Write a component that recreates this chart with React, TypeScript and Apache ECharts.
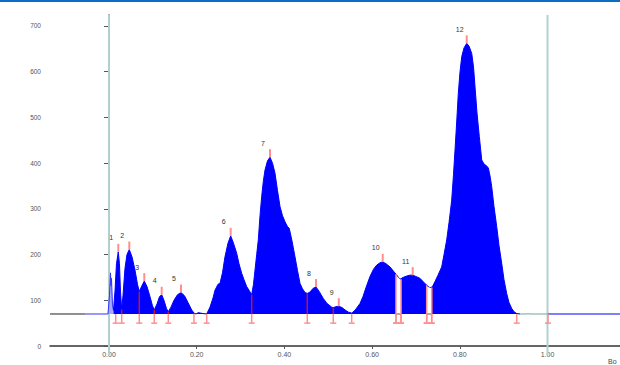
import React, { useEffect, useRef } from "react";
import * as echarts from "echarts";

const BASELINE = 70;
const MARK_BOTTOM = 50;
const X_MIN = -0.1345;
const X_MAX = 1.1653;
const Y_MAX = 724;

const xTicks = [0, 0.2, 0.4, 0.6, 0.8, 1.0];
const yTicks = [0, 100, 200, 300, 400, 500, 600, 700];

const leadX = [-0.1345, -0.0547];
const leadY = [70, 70];

const prePeakX = [-0.0547, -0.0023, 0.0011, 0.0034, 0.0046, 0.0057, 0.008, 0.0103];
const prePeakY = [70, 70, 110, 160, 132, 148, 90, 78];

const traceX = [
  0.0103, 0.0137, 0.0171, 0.0212, 0.0239, 0.0262, 0.029, 0.0319, 0.0365, 0.041,
  0.0463, 0.0525, 0.0593, 0.065, 0.0691, 0.0741, 0.0805, 0.0867, 0.0935, 0.0992,
  0.1033, 0.1095, 0.1152, 0.1202, 0.1254, 0.1311, 0.1352, 0.1414, 0.1482, 0.1562,
  0.1642, 0.1722, 0.1802, 0.1886, 0.1938, 0.1984, 0.2036, 0.2087, 0.2144, 0.2228,
  0.2303, 0.2372, 0.2417, 0.2486, 0.2531, 0.2588, 0.2645, 0.2714, 0.2775, 0.2839,
  0.2912, 0.2965, 0.3026, 0.3079, 0.314, 0.3193, 0.3254, 0.3295, 0.333, 0.3368,
  0.3405, 0.3444, 0.3482, 0.3519, 0.3558, 0.3615, 0.3672, 0.3729, 0.3786, 0.3843,
  0.39, 0.3957, 0.4014, 0.4066, 0.4112, 0.4173, 0.4242, 0.4299, 0.4356, 0.4413,
  0.447, 0.4522, 0.4584, 0.4652, 0.4721, 0.4789, 0.4887, 0.4972, 0.5079, 0.5115,
  0.5177, 0.5241, 0.5314, 0.5382, 0.5462, 0.5535, 0.561, 0.5724, 0.5792, 0.5861,
  0.5952, 0.6032, 0.6105, 0.618, 0.6242, 0.6317, 0.6408, 0.6477, 0.6545, 0.6636,
  0.6705, 0.6789, 0.6864, 0.6926, 0.7001, 0.7092, 0.7172, 0.7245, 0.732, 0.7377,
  0.7434, 0.7503, 0.7587, 0.764, 0.7701, 0.7754, 0.7815, 0.7856, 0.7891, 0.7929,
  0.7966, 0.8005, 0.8044, 0.8096, 0.8158, 0.821, 0.8272, 0.8313, 0.8347, 0.8392,
  0.8445, 0.85, 0.8552, 0.8597, 0.865, 0.8689, 0.8727, 0.878, 0.8842, 0.8894,
  0.8955, 0.9008, 0.9069, 0.9122, 0.9184, 0.9236, 0.9298, 0.9373,
];
const traceY = [
  78, 120, 180, 206, 180, 120, 80, 110, 170, 200,
  211, 195, 166, 135, 119, 130, 142, 130, 108, 88,
  79, 92, 108, 112, 100, 82, 75, 85, 100, 112,
  117, 110, 95, 79, 72, 70, 73, 72, 71, 70,
  85, 105, 122, 135, 137, 160, 195, 225, 241, 225,
  203, 180, 159, 145, 130, 122, 112, 135, 166, 200,
  232, 285, 327, 360, 385, 405, 413, 400, 378, 340,
  305, 285, 272, 262, 257, 230, 195, 165, 137, 125,
  117, 115, 118, 126, 129, 120, 104, 93, 85, 84,
  86, 87, 84, 79, 74, 72, 78, 93, 108, 128,
  152, 168, 177, 182, 184, 180, 173, 165, 157, 146,
  150, 153, 155, 155, 152, 148, 140, 133, 127, 130,
  141, 155, 173, 200, 232, 270, 319, 375, 429, 490,
  553, 600, 633, 652, 662, 656, 640, 610, 567, 510,
  458, 407, 398, 395, 390, 372, 349, 305, 261, 220,
  181, 145, 115, 95, 82, 75, 71, 70,
];

const tailX = [0.9373, 0.9531, 0.9555, 0.958, 0.998, 1.0011];
const tailY = [70, 70, 71, 70, 70, 70];

const postX = [1.0011, 1.1653];
const postY = [70, 70];

const peakLabels = ["1", "2", "3", "4", "5", "6", "7", "8", "9", "10", "11", "12"];
const peakX = [0.0212, 0.0463, 0.0805, 0.1202, 0.1642, 0.2775, 0.3672, 0.4721, 0.5241, 0.6242, 0.6926, 0.8158];
const peakY = [206, 211, 142, 112, 117, 241, 413, 129, 87, 184, 155, 662];

const boundaryX = [0.0153, 0.029, 0.0691, 0.1033, 0.1352, 0.1938, 0.2228, 0.3254, 0.4522, 0.5115, 0.5535, 0.6545, 0.6659, 0.7245, 0.7359, 0.9298, 1.0011];
const boundaryTop = [70, 80, 119, 79, 75, 72, 70, 112, 115, 84, 72, 157, 146, 133, 128, 71, 70];

const gapStartX = [0.6545, 0.7245];
const gapStartTop = [157, 133];
const gapEndX = [0.6659, 0.7359];
const gapEndTop = [146, 128];

const guideX = [0, 1];

const zip = (xs: number[], ys: number[]) => xs.map((x, i) => [x, ys[i]]);

export default function App() {
  const ref = useRef<HTMLDivElement>(null);

  useEffect(() => {
    if (!ref.current) return;
    const chart = echarts.init(ref.current, undefined, { renderer: "svg" });
    const pink = "#ff8f8f";
    const darkRed = "#c0143c";

    const option: any = {
      animation: false,
      backgroundColor: "#ffffff",
      graphic: [
        { type: "rect", left: 0, top: 0, shape: { width: 620, height: 2 }, style: { fill: "#0a6fc2" }, z: 100 },
      ],
      grid: { left: 50, right: 0, top: 15, bottom: 19, containLabel: false },
      xAxis: {
        type: "value",
        min: X_MIN,
        max: X_MAX,
        name: "Bo",
        nameLocation: "end",
        nameGap: -12,
        nameTextStyle: { fontSize: 7, color: "#444", align: "left", verticalAlign: "top", padding: [12, 0, 0, 0], fontFamily: "Liberation Sans" },
        axisLine: { show: true, onZero: false, lineStyle: { color: "#333", width: 1.5 } },
        axisTick: { show: true, length: 3, customValues: xTicks, lineStyle: { color: "#555" } },
        axisLabel: {
          customValues: xTicks,
          formatter: (v: number) => v.toFixed(2),
          fontSize: 7,
          color: "#555",
          margin: 5,
          fontFamily: "Liberation Sans",
        },
        splitLine: { show: false },
      },
      yAxis: {
        type: "value",
        min: 0,
        max: Y_MAX,
        axisLine: { show: true, lineStyle: { color: "#9a9a9a", width: 2 } },
        axisTick: { show: true, length: 5, customValues: yTicks, lineStyle: { color: "#555" } },
        axisLabel: { customValues: yTicks, fontSize: 6.5, color: "#555", margin: 9, fontFamily: "Liberation Sans" },
        splitLine: { show: false },
      },
      series: [
        {
          type: "custom",
          name: "guides",
          z: 1,
          data: guideX.map((x) => [x, 0]),
          encode: { x: 0, y: 1 },
          renderItem: (params: any, api: any) => {
            const top = api.coord([api.value(0), Y_MAX]);
            const bot = api.coord([api.value(0), 0]);
            return {
              type: "line",
              shape: { x1: top[0], y1: top[1], x2: bot[0], y2: bot[1] + 9 },
              style: { stroke: "#b2d0d0", lineWidth: 2 },
            };
          },
        },
        {
          type: "line",
          name: "lead",
          z: 2,
          data: zip(leadX, leadY),
          showSymbol: false,
          lineStyle: { color: "#222", width: 1 },
        },
        {
          type: "line",
          name: "pre",
          z: 2,
          data: zip(prePeakX, prePeakY),
          showSymbol: false,
          lineStyle: { color: "#3030ff", width: 1 },
          areaStyle: { color: "#a8a8ff", opacity: 1, origin: BASELINE },
        },
        {
          type: "line",
          name: "trace",
          z: 3,
          data: zip(traceX, traceY),
          showSymbol: false,
          lineStyle: { color: "#0000ff", width: 1 },
          areaStyle: { color: "#0000ff", opacity: 1, origin: BASELINE },
        },
        {
          type: "line",
          name: "tail",
          z: 2,
          data: zip(tailX, tailY),
          showSymbol: false,
          lineStyle: { color: "#6fa3a3", width: 1 },
        },
        {
          type: "line",
          name: "post",
          z: 2,
          data: zip(postX, postY),
          showSymbol: false,
          lineStyle: { color: "#0000ff", width: 1 },
        },
        {
          type: "custom",
          name: "boundaries",
          z: 4,
          data: zip(boundaryX, boundaryTop),
          encode: { x: 0, y: 1 },
          renderItem: (params: any, api: any) => {
            const x = api.value(0);
            const t = api.coord([x, api.value(1)]);
            const b = api.coord([x, BASELINE]);
            const m = api.coord([x, MARK_BOTTOM]);
            const children: any[] = [];
            if (api.value(1) > BASELINE + 1) {
              children.push({ type: "line", shape: { x1: t[0], y1: t[1], x2: b[0], y2: b[1] }, style: { stroke: darkRed, lineWidth: 1.5 } });
            }
            children.push({ type: "line", shape: { x1: b[0], y1: b[1], x2: m[0], y2: m[1] }, style: { stroke: pink, lineWidth: 1.5 } });
            children.push({ type: "line", shape: { x1: m[0] - 3, y1: m[1], x2: m[0] + 3, y2: m[1] }, style: { stroke: pink, lineWidth: 1.5 } });
            return { type: "group", children };
          },
        },
        {
          type: "custom",
          name: "gaps",
          z: 5,
          data: gapStartX.map((x, i) => [x, gapStartTop[i], gapEndX[i], gapEndTop[i]]),
          encode: { x: [0, 2], y: [1, 3] },
          renderItem: (params: any, api: any) => {
            const s = api.coord([api.value(0), api.value(1)]);
            const sb = api.coord([api.value(0), BASELINE]);
            const e = api.coord([api.value(2), api.value(3)]);
            const eb = api.coord([api.value(2), BASELINE]);
            const sm = api.coord([api.value(0), MARK_BOTTOM]);
            const em = api.coord([api.value(2), MARK_BOTTOM]);
            return {
              type: "group",
              children: [
                { type: "polygon", shape: { points: [[sb[0], sb[1]], [s[0], s[1] + 1], [e[0], e[1] + 1], [eb[0], eb[1]]] }, style: { fill: "#ffffff" } },
                { type: "line", shape: { x1: sb[0], y1: sb[1], x2: eb[0], y2: eb[1] }, style: { stroke: "#555", lineWidth: 1 } },
                { type: "line", shape: { x1: s[0], y1: s[1], x2: sm[0], y2: sm[1] }, style: { stroke: pink, lineWidth: 1.5 } },
                { type: "line", shape: { x1: e[0], y1: e[1], x2: em[0], y2: em[1] }, style: { stroke: pink, lineWidth: 1.5 } },
                { type: "line", shape: { x1: sm[0] - 3, y1: sm[1], x2: sm[0] + 3, y2: sm[1] }, style: { stroke: pink, lineWidth: 1.5 } },
                { type: "line", shape: { x1: em[0] - 3, y1: em[1], x2: em[0] + 3, y2: em[1] }, style: { stroke: pink, lineWidth: 1.5 } },
              ],
            };
          },
        },
        {
          type: "custom",
          name: "peaks",
          z: 6,
          data: peakX.map((x, i) => [x, peakY[i], i]),
          encode: { x: 0, y: 1 },
          renderItem: (params: any, api: any) => {
            const p = api.coord([api.value(0), api.value(1)]);
            const label = peakLabels[api.value(2)];
            return {
              type: "group",
              children: [
                { type: "line", shape: { x1: p[0], y1: p[1], x2: p[0], y2: p[1] - 8 }, style: { stroke: pink, lineWidth: 2 } },
                {
                  type: "text",
                  x: p[0] - 7,
                  y: p[1] - 14,
                  style: { text: label, fontSize: 7, fill: "#333", align: "center", verticalAlign: "middle", fontFamily: "Liberation Sans" },
                },
              ],
            };
          },
        },
      ],
    };
    chart.setOption(option);
    return () => chart.dispose();
  }, []);

  return (
    <div
      ref={ref}
      style={{ position: "fixed", left: 0, top: 0, width: 620, height: 365, background: "#fff" }}
    />
  );
}
